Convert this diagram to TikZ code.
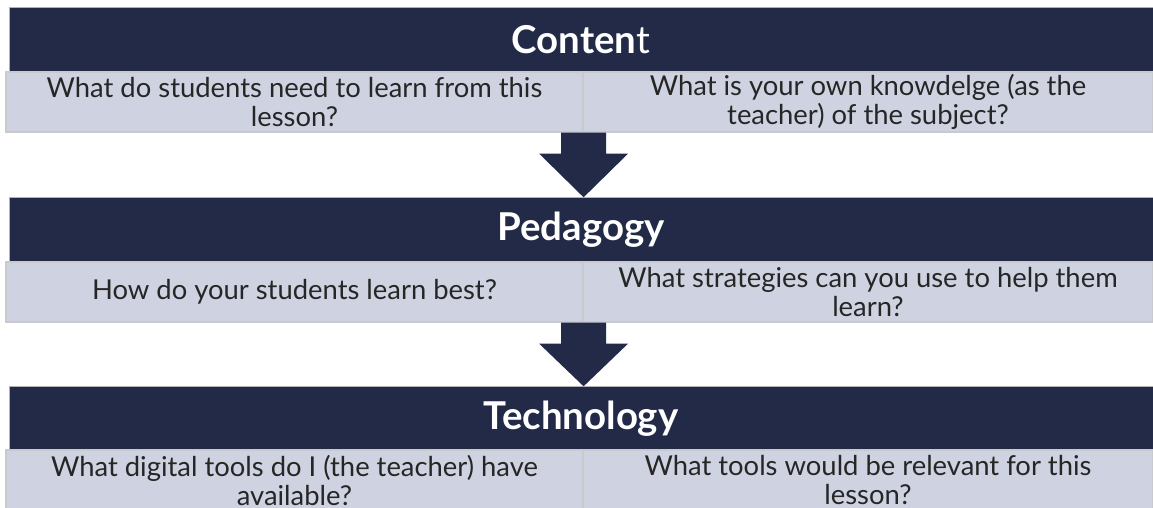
\documentclass[tikz,border=0pt]{standalone}
\usepackage{fontspec}
\setmainfont{Lato}
\usepackage{xcolor}
\usepackage{tikz}
\usetikzlibrary{calc}

\definecolor{navy}{HTML}{222A47}
\definecolor{cellfill}{HTML}{CFD3E1}
\definecolor{cellline}{HTML}{C9CACE}
\definecolor{ink}{HTML}{262626}

\begin{document}
\begin{tikzpicture}[
  x=0.5pt, y=-0.5pt,
  header/.style={draw=gray!60, line width=0.4pt, fill=navy, minimum width=572pt, minimum height=32.3pt, inner sep=0pt, text=white, font=\fontsize{19.2}{22}\selectfont\bfseries},
  cell/.style={draw=cellline, line width=0.6pt, fill=cellfill, minimum height=30pt, inner sep=0pt, text=ink, align=center, font=\fontsize{13.7}{14.5}\selectfont},
  leftcell/.style={cell, minimum width=288.5pt},
  rightcell/.style={cell, minimum width=285pt}
]
\useasboundingbox (0,0) rectangle (1153,508);

% --- Headers ---
\node[header] (ch) at (581,39.5) {Conten\mdseries t};
\node[header] (ph) at (581,230) {Pedagogy};
\node[header] (th) at (581,419) {Technology};

% --- Content questions ---
\node[leftcell] (cl) at (294.5,102) {What do students need to learn from this\\lesson?};
\node[rightcell] (cr) at (868,102) {What is your own knowdelge (as the\\teacher) of the subject?};

% --- Pedagogy questions ---
\node[leftcell] (pl) at (294.5,292) {How do your students learn best?};
\node[rightcell] (pr) at (868,292) {What strategies can you use to help them\\learn?};

% --- Technology questions ---
\node[leftcell] (tl) at (294.5,480) {What digital tools do I (the teacher) have\\available?};
\node[rightcell] (tr) at (868,480) {What tools would be relevant for this\\lesson?};

% --- Block arrows between stages ---
\foreach \a/\b in {cl/ph, pl/th} {
  \fill[navy] ($(\a.south east)+(-11.25pt,0)$) -- ++(0,-10.5pt) -- ++(-11pt,0)
    -- (\a.south east |- \b.north)
    -- ($(\a.south east)+(22.25pt,-10.5pt)$) -- ++(-11pt,0)
    -- ($(\a.south east)+(11.25pt,0)$) -- cycle;
}

\end{tikzpicture}
\end{document}
